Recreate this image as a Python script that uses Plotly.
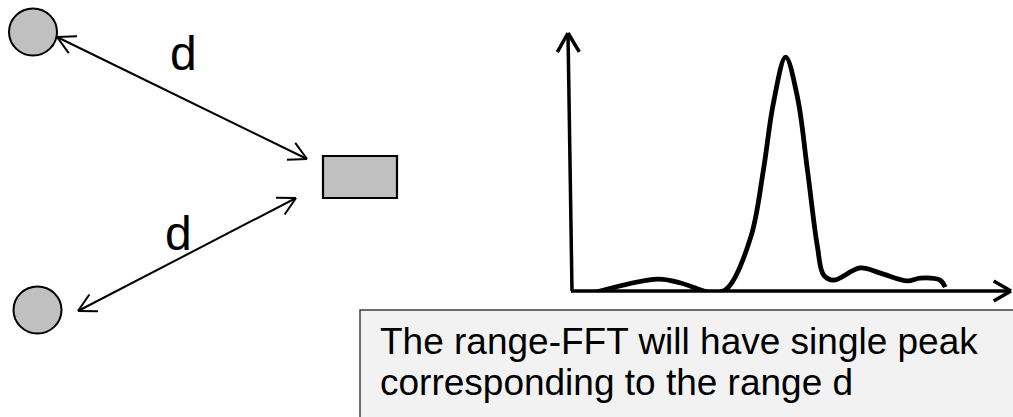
import math
import plotly.graph_objects as go

W, H = 1013, 417

# ---- data: spectrum curve (range bin vs amplitude) ----
fft_bin = [3.9, 19.7, 24.9, 32.5, 35.7, 41.0, 43.9, 46.2, 49.0, 51.7, 54.0, 56.3, 57.7, 60.0, 66.1, 70.7, 76.9, 79.9, 84.4, 85.6]
fft_amp = [-1.2, 4.6, 3.1, -0.8, 1.2, 20.8, 46.7, 72.6, 90.3, 74.9, 46.7, 17.0, 6.2, 4.2, 8.9, 6.9, 3.9, 5.0, 4.2, 1.5]

# ---- diagram elements (pixel space) ----
targets_cx = [33, 37.5]
targets_cy = [32, 310]
target_r = 24
radar_box = [323, 156, 397, 198]
dist_arrows = [((57, 37), (307, 159)), ((78, 311), (296, 198))]
d_labels_x = [183, 178]
d_labels_y = [53, 233]
axis_origin = (572, 291)
axis_y_tip = (568, 33)
axis_x_tip = (1011, 291)
text_box = [360, 310, 1030, 430]
caption_lines = ["The range-FFT will have single peak", "corresponding to the range d"]
caption_y = [341, 382]

fig = go.Figure()

fig.add_trace(go.Scatter(
    x=fft_bin, y=fft_amp, mode="lines", xaxis="x2", yaxis="y2", cliponaxis=False,
    line=dict(color="black", width=4.8, shape="spline", smoothing=1.0),
    hoverinfo="skip", showlegend=False))

shapes = []

def line(p, q, w, color="black"):
    shapes.append(dict(type="line", xref="x", yref="y", x0=p[0], y0=p[1], x1=q[0], y1=q[1],
                       line=dict(color=color, width=w), layer="above"))

def chevron(tip, frm, length, ang, w):
    dx, dy = frm[0] - tip[0], frm[1] - tip[1]
    n = math.hypot(dx, dy)
    ux, uy = dx / n, dy / n
    for s in (1, -1):
        a = math.radians(ang) * s
        rx = ux * math.cos(a) - uy * math.sin(a)
        ry = ux * math.sin(a) + uy * math.cos(a)
        line(tip, (tip[0] + rx * length, tip[1] + ry * length), w)

# text box
shapes.append(dict(type="rect", xref="x", yref="y", x0=text_box[0], y0=text_box[1], x1=text_box[2], y1=text_box[3],
                   fillcolor="#f2f2f2", line=dict(color="#3f3f3f", width=1.5), layer="below"))

# targets
for cx, cy in zip(targets_cx, targets_cy):
    shapes.append(dict(type="circle", xref="x", yref="y", x0=cx - target_r, x1=cx + target_r,
                       y0=cy - target_r + 0.5, y1=cy + target_r - 0.5,
                       fillcolor="#c0c0c0", line=dict(color="black", width=2)))
# radar
shapes.append(dict(type="rect", xref="x", yref="y", x0=radar_box[0], y0=radar_box[1], x1=radar_box[2], y1=radar_box[3],
                   fillcolor="#c0c0c0", line=dict(color="black", width=2.2)))

# double-headed distance arrows
for p, q in dist_arrows:
    line(p, q, 2)
    chevron(p, q, 20, 28, 2)
    chevron(q, p, 20, 28, 2)

# spectrum axes
line(axis_origin, axis_y_tip, 3.5)
chevron(axis_y_tip, axis_origin, 22, 30, 3.5)
line((axis_origin[0] - 1, axis_origin[1]), axis_x_tip, 3.5)
chevron(axis_x_tip, axis_origin, 20, 30, 3.5)

annotations = []
for x, y in zip(d_labels_x, d_labels_y):
    annotations.append(dict(x=x, y=y, xref="x", yref="y", text="d", showarrow=False,
                            xanchor="center", yanchor="middle",
                            font=dict(family="Liberation Sans, Arial", size=48, color="black")))
for t, y in zip(caption_lines, caption_y):
    annotations.append(dict(x=378, y=y, xref="x", yref="y", text=t, showarrow=False,
                            xanchor="left", yanchor="middle",
                            font=dict(family="Liberation Sans, Arial", size=37, color="black")))

ox, oy = axis_origin
fig.update_layout(
    width=W, height=H, margin=dict(l=0, r=0, t=0, b=0),
    paper_bgcolor="white", plot_bgcolor="rgba(0,0,0,0)",
    xaxis=dict(range=[0, W], domain=[0, 1], visible=False, fixedrange=True),
    yaxis=dict(range=[H, 0], domain=[0, 1], visible=False, fixedrange=True),
    xaxis2=dict(range=[0, 100], domain=[ox / W, 1008 / W], anchor="y2", visible=False, fixedrange=True),
    yaxis2=dict(range=[0, 100], domain=[(H - oy) / H, (H - 32) / H], anchor="x2", visible=False, fixedrange=True),
    shapes=shapes, annotations=annotations, showlegend=False,
)

fig.write_html("out.html", config={"displayModeBar": False, "staticPlot": True},
               post_script="document.body.style.margin='0';document.body.style.padding='0';document.body.style.overflow='hidden';")
